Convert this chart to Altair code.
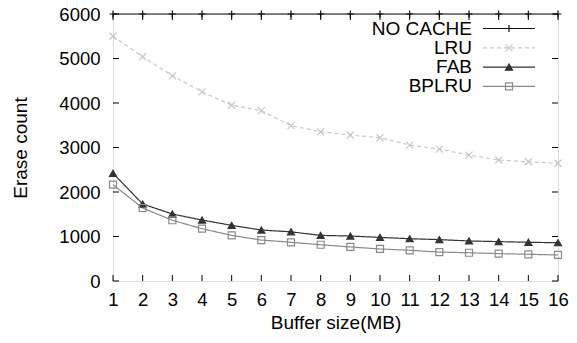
import altair as alt
import pandas as pd

buffer_mb = list(range(1, 17))
series_names = ["NO CACHE", "LRU", "FAB", "BPLRU"]
no_cache = [6000] * 16
lru = [5500, 5040, 4610, 4250, 3950, 3830, 3490, 3355, 3280, 3220, 3055, 2965, 2830, 2720, 2680, 2645]
fab = [2420, 1730, 1505, 1370, 1250, 1145, 1105, 1025, 1010, 980, 950, 930, 900, 885, 870, 860]
bplru = [2165, 1640, 1365, 1175, 1025, 920, 870, 815, 765, 720, 690, 650, 635, 615, 600, 585]
y_ticks = [0, 1000, 2000, 3000, 4000, 5000, 6000]

colors = ["#111111", "#c8c8c8", "#333333", "#8a8a8a"]
dashes = [[1, 0], [4, 3], [1, 0], [1, 0]]
PLUS = "M-1,0L1,0M0,-1L0,1"
CROSS = "M-1,-1L1,1M-1,1L1,-1"
shapes = [PLUS, CROSS, "triangle-up", "square"]
fills = ["transparent", "transparent", "#333333", "transparent"]

rows = []
for name, vals in zip(series_names, [no_cache, lru, fab, bplru]):
    for b, v in zip(buffer_mb, vals):
        rows.append({"buffer": b, "count": v, "series": name})
df = pd.DataFrame(rows)

W, H = 445, 267
FONT = "Liberation Sans"
FS = 18.5
LFS = 19
XT = "Buffer size(MB)"
YT = "Erase count"

x_scale = alt.Scale(domain=[1, 16], nice=False)
y_scale = alt.Scale(domain=[0, 6000], nice=False)
x_axis = alt.Axis(values=buffer_mb, format="d", labelPadding=9, titlePadding=5)
y_axis = alt.Axis(values=y_ticks, format="d", labelPadding=13, titlePadding=28)

def X(field):
    return alt.X(field, title=XT, scale=x_scale, axis=x_axis)

def Y(field):
    return alt.Y(field, title=YT, scale=y_scale, axis=y_axis)

color_scale = alt.Scale(domain=series_names, range=colors)
dash_scale = alt.Scale(domain=series_names, range=dashes)
shape_scale = alt.Scale(domain=series_names, range=shapes)
fill_scale = alt.Scale(domain=series_names, range=fills)

base = alt.Chart(df)
lines = base.mark_line(strokeWidth=1.2, clip=False).encode(
    x=X("buffer:Q"), y=Y("count:Q"),
    color=alt.Color("series:N", scale=color_scale, legend=None),
    strokeDash=alt.StrokeDash("series:N", scale=dash_scale, legend=None),
    detail="series:N",
)
points = base.mark_point(size=49, strokeWidth=1.2, opacity=1, clip=False).encode(
    x=X("buffer:Q"), y=Y("count:Q"),
    color=alt.Color("series:N", scale=color_scale, legend=None),
    shape=alt.Shape("series:N", scale=shape_scale, legend=None),
    fill=alt.Fill("series:N", scale=fill_scale, legend=None),
)

# inward ticks (gnuplot style, mirrored)
ytick_df = pd.DataFrame({"count": y_ticks})
xtick_df = pd.DataFrame({"buffer": buffer_mb})
tick_left = alt.Chart(ytick_df).mark_rule(color="black", strokeWidth=1).encode(
    y=Y("count:Q"), x=alt.value(0), x2=alt.value(6))
tick_right = alt.Chart(ytick_df).mark_rule(color="black", strokeWidth=1).encode(
    y=Y("count:Q"), x=alt.value(W - 6), x2=alt.value(W))
tick_bottom = alt.Chart(xtick_df).mark_rule(color="black", strokeWidth=1).encode(
    x=X("buffer:Q"), y=alt.value(H), y2=alt.value(H - 6))
tick_top = alt.Chart(xtick_df).mark_rule(color="black", strokeWidth=1).encode(
    x=X("buffer:Q"), y=alt.value(0), y2=alt.value(6))

# custom legend: label right-aligned, sample to the right
leg_df = pd.DataFrame({"series": series_names, "idx": list(range(4))})
leg = alt.Chart(leg_df).transform_calculate(py="14.5 + 19.3 * datum.idx")
leg_text = leg.mark_text(align="right", baseline="middle", font=FONT, fontSize=LFS,
                         color="black").encode(
    x=alt.value(359), y=alt.Y("py:Q", scale=None), text="series:N")
leg_line = leg.mark_rule(strokeWidth=1.2).encode(
    x=alt.value(370), x2=alt.value(422), y=alt.Y("py:Q", scale=None),
    color=alt.Color("series:N", scale=color_scale, legend=None),
    strokeDash=alt.StrokeDash("series:N", scale=dash_scale, legend=None))
leg_pt = leg.mark_point(size=49, strokeWidth=1.2, opacity=1).encode(
    x=alt.value(396), y=alt.Y("py:Q", scale=None),
    color=alt.Color("series:N", scale=color_scale, legend=None),
    shape=alt.Shape("series:N", scale=shape_scale, legend=None),
    fill=alt.Fill("series:N", scale=fill_scale, legend=None))

chart = alt.layer(
    lines, points, tick_left, tick_right, tick_bottom, tick_top,
    leg_text, leg_line, leg_pt
).properties(
    width=W, height=H,
    autosize=alt.AutoSizeParams(type="none"),
    padding={"left": 105, "top": 6, "right": 11, "bottom": 54},
).configure_view(stroke="black", strokeWidth=1.5).configure(
    background="white"
).configure_axis(
    tickSize=0, domain=False, grid=False, labelOverlap=False, labelFlush=False,
    labelFont=FONT, labelFontSize=FS, labelColor="black",
    titleFont=FONT, titleFontSize=LFS, titleFontWeight="normal", titleColor="black",
)

chart.save("out.html", embed_options={"renderer": "svg", "actions": False})
